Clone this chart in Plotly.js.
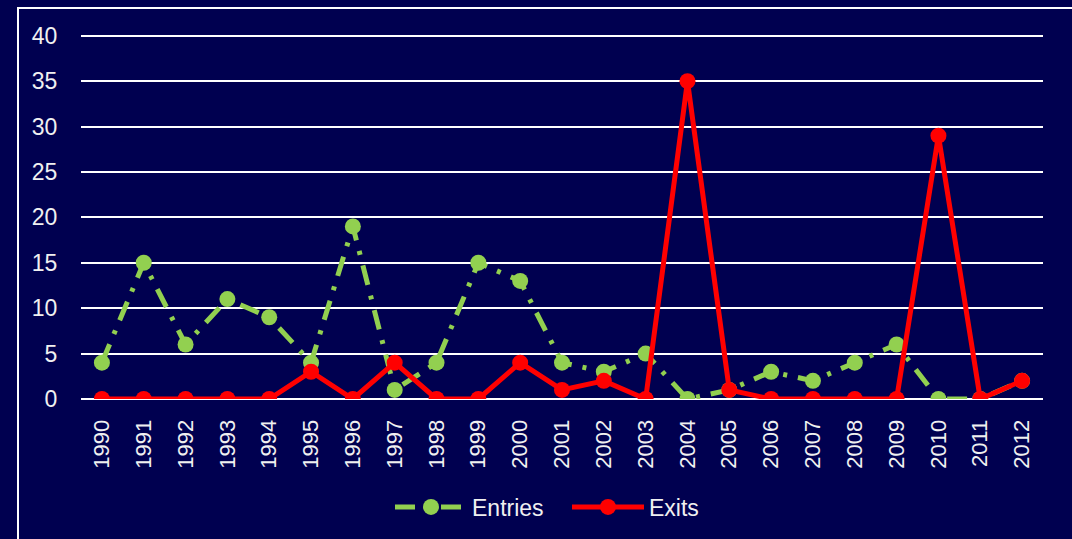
<!DOCTYPE html>
<html><head><meta charset="utf-8">
<script src="https://cdn.plot.ly/plotly-3.0.1.min.js"></script>
<style>html,body{margin:0;padding:0;background:#000050;}#c{width:1072px;height:539px;}</style>
</head><body><div id="c"></div>
<script>
const years = ['1990','1991','1992','1993','1994','1995','1996','1997','1998','1999','2000','2001','2002','2003','2004','2005','2006','2007','2008','2009','2010','2011','2012'];
const entries = [4,15,6,11,9,4,19,1,4,15,13,4,3,5,0,1,3,2,4,6,0,0,2];
const exits = [0,0,0,0,0,3,0,4,0,0,4,1,2,0,35,1,0,0,0,0,29,0,2];

const L=81,R=29,T=33,B=139,W=1072,H=539;
const pw=W-L-R, ph=H-T-B;
const px=x=>(x-L)/pw, py=y=>(H-B-y)/ph;

Plotly.newPlot('c',[
 {x:years,y:entries,name:'Entries',type:'scatter',mode:'lines+markers',
  line:{color:'#92d050',width:5,dash:'20px,11px,4px,11px'},marker:{size:16,color:'#92d050'}},
 {x:years,y:exits,name:'Exits',type:'scatter',mode:'lines+markers',
  line:{color:'#ff0000',width:5},marker:{size:16,color:'#ff0000'}}
],{
 width:W,height:H,margin:{l:L,r:R,t:T,b:B},
 paper_bgcolor:'#000050',plot_bgcolor:'#000050',
 font:{family:'Liberation Sans, Arial',color:'#f0f0f0',size:22},
 showlegend:true,
 legend:{orientation:'h',x:px(567),xanchor:'center',y:py(507),yanchor:'middle',itemwidth:72,entrywidth:90,font:{size:23,color:'#f0f0f0'},bgcolor:'rgba(0,0,0,0)'},
 xaxis:{type:'category',range:[-0.5,22.5],tickangle:-90,tickfont:{size:22,color:'#f0f0f0'},showgrid:false,zeroline:false,showline:false,ticks:'outside',ticklen:11,tickcolor:'rgba(0,0,0,0)'},
 yaxis:{range:[0,40.3],tickvals:[0,5,10,15,20,25,30,35,40],tickfont:{size:23,color:'#f0f0f0'},gridcolor:'#ffffff',gridwidth:2,zeroline:true,zerolinecolor:'#ffffff',zerolinewidth:2,showline:false,ticks:'outside',ticklen:18,tickcolor:'rgba(0,0,0,0)'},
 shapes:[{type:'rect',xref:'paper',yref:'paper',x0:px(18),x1:px(1090),y0:py(560),y1:py(8),line:{color:'#ffffff',width:2},fillcolor:'rgba(0,0,0,0)',layer:'below'}]
},{staticPlot:true});
</script></body></html>
